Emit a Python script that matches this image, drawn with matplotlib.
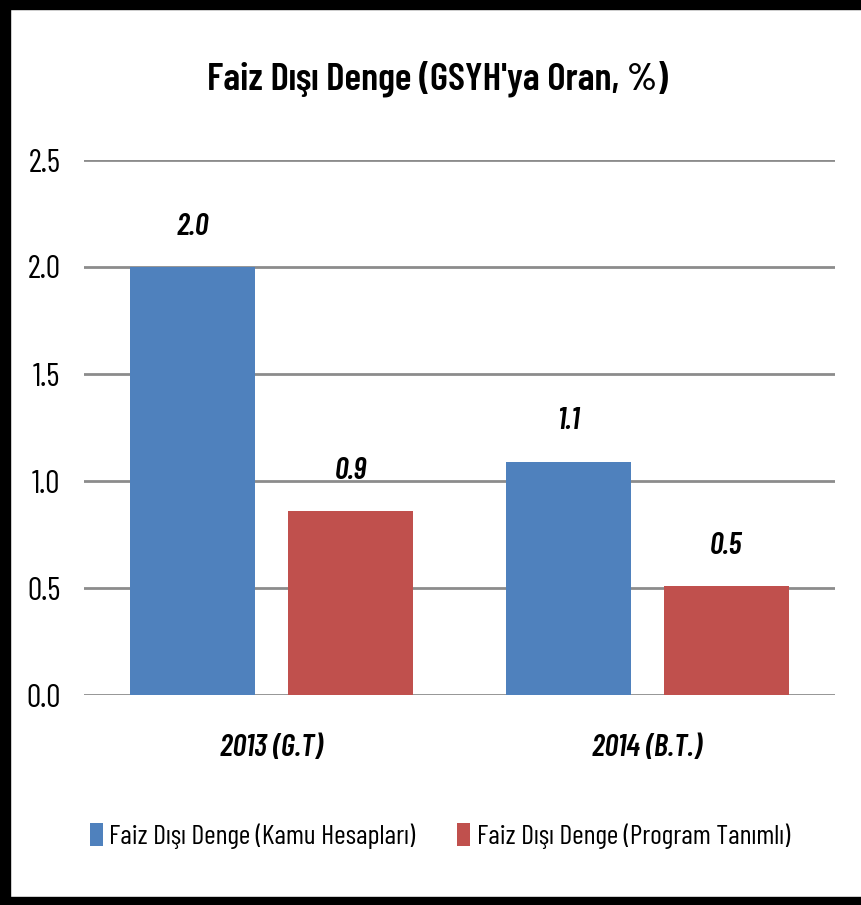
import matplotlib
matplotlib.use("Agg")
import matplotlib.pyplot as plt
from matplotlib.patches import Rectangle, Patch
import numpy as np

categories = ["2013 (G.T)", "2014 (B.T.)"]
series_names = ["Faiz Dışı Denge (Kamu Hesapları)", "Faiz Dışı Denge (Program Tanımlı)"]
kamu = [2.0, 1.09]
program = [0.86, 0.51]
yticks = [0.0, 0.5, 1.0, 1.5, 2.0, 2.5]
title = "Faiz Dışı Denge (GSYH'ya Oran, %)"

plt.rcParams['font.family'] = ['Barlow Condensed', 'DejaVu Sans']

blue = "#4F81BD"
red = "#C0504D"

fig = plt.figure(figsize=(8.61, 9.05), dpi=100)
ax = fig.add_axes([84/861, 1-695/905, 751/861, 535/905])

x = np.arange(len(categories))
w = 0.333
off = 0.21
b1 = ax.bar(x - off, kamu, w, color=blue, zorder=3)
b2 = ax.bar(x + off, program, w, color=red, zorder=3)

for bars, vals in ((b1, kamu), (b2, program)):
    for rect, v in zip(bars, vals):
        ax.annotate(f"{v:.1f}", (rect.get_x() + rect.get_width()/2, v),
                    xytext=(0, 29), textcoords="offset points",
                    ha="center", va="center", fontsize=22,
                    fontweight="semibold", fontstyle="italic", color="black")

ax.set_xlim(-0.5, len(categories) - 0.5)
ax.set_ylim(0, 2.5)
ax.set_yticks(yticks)
ax.set_yticklabels([f"{t:.1f}" for t in yticks], fontsize=23)
ax.set_xticks(x)
ax.set_xticklabels(categories, fontsize=22, fontweight="semibold", fontstyle="italic")
for t in ax.get_xticklabels():
    t.set_verticalalignment("center")
ax.tick_params(axis="y", length=0, pad=17)
ax.tick_params(axis="x", length=0, pad=38)
for s in ax.spines.values():
    s.set_visible(False)
ax.grid(axis="y", color="#8c8c8c", linewidth=2, zorder=0)
ax.set_axisbelow(True)

fig.text(437/861, 1-79/905, title, ha="center", va="center",
         fontsize=28, fontweight="semibold")

handles = [Patch(facecolor=blue), Patch(facecolor=red)]
fig.legend(handles, series_names, loc="center", bbox_to_anchor=(440/861, 1-836/905),
           ncol=2, frameon=False, fontsize=20, handlelength=0.45, handleheight=0.9,
           handletextpad=0.25, columnspacing=1.5, borderpad=0, borderaxespad=0)

# black frame
fig.patches.append(Rectangle((0, 0), 1, 8/905, transform=fig.transFigure, color="black"))
fig.patches.append(Rectangle((0, 1-9/905), 1, 9/905, transform=fig.transFigure, color="black"))
fig.patches.append(Rectangle((0, 0), 10/861, 1, transform=fig.transFigure, color="black"))

fig.savefig("out.png", dpi=100)
